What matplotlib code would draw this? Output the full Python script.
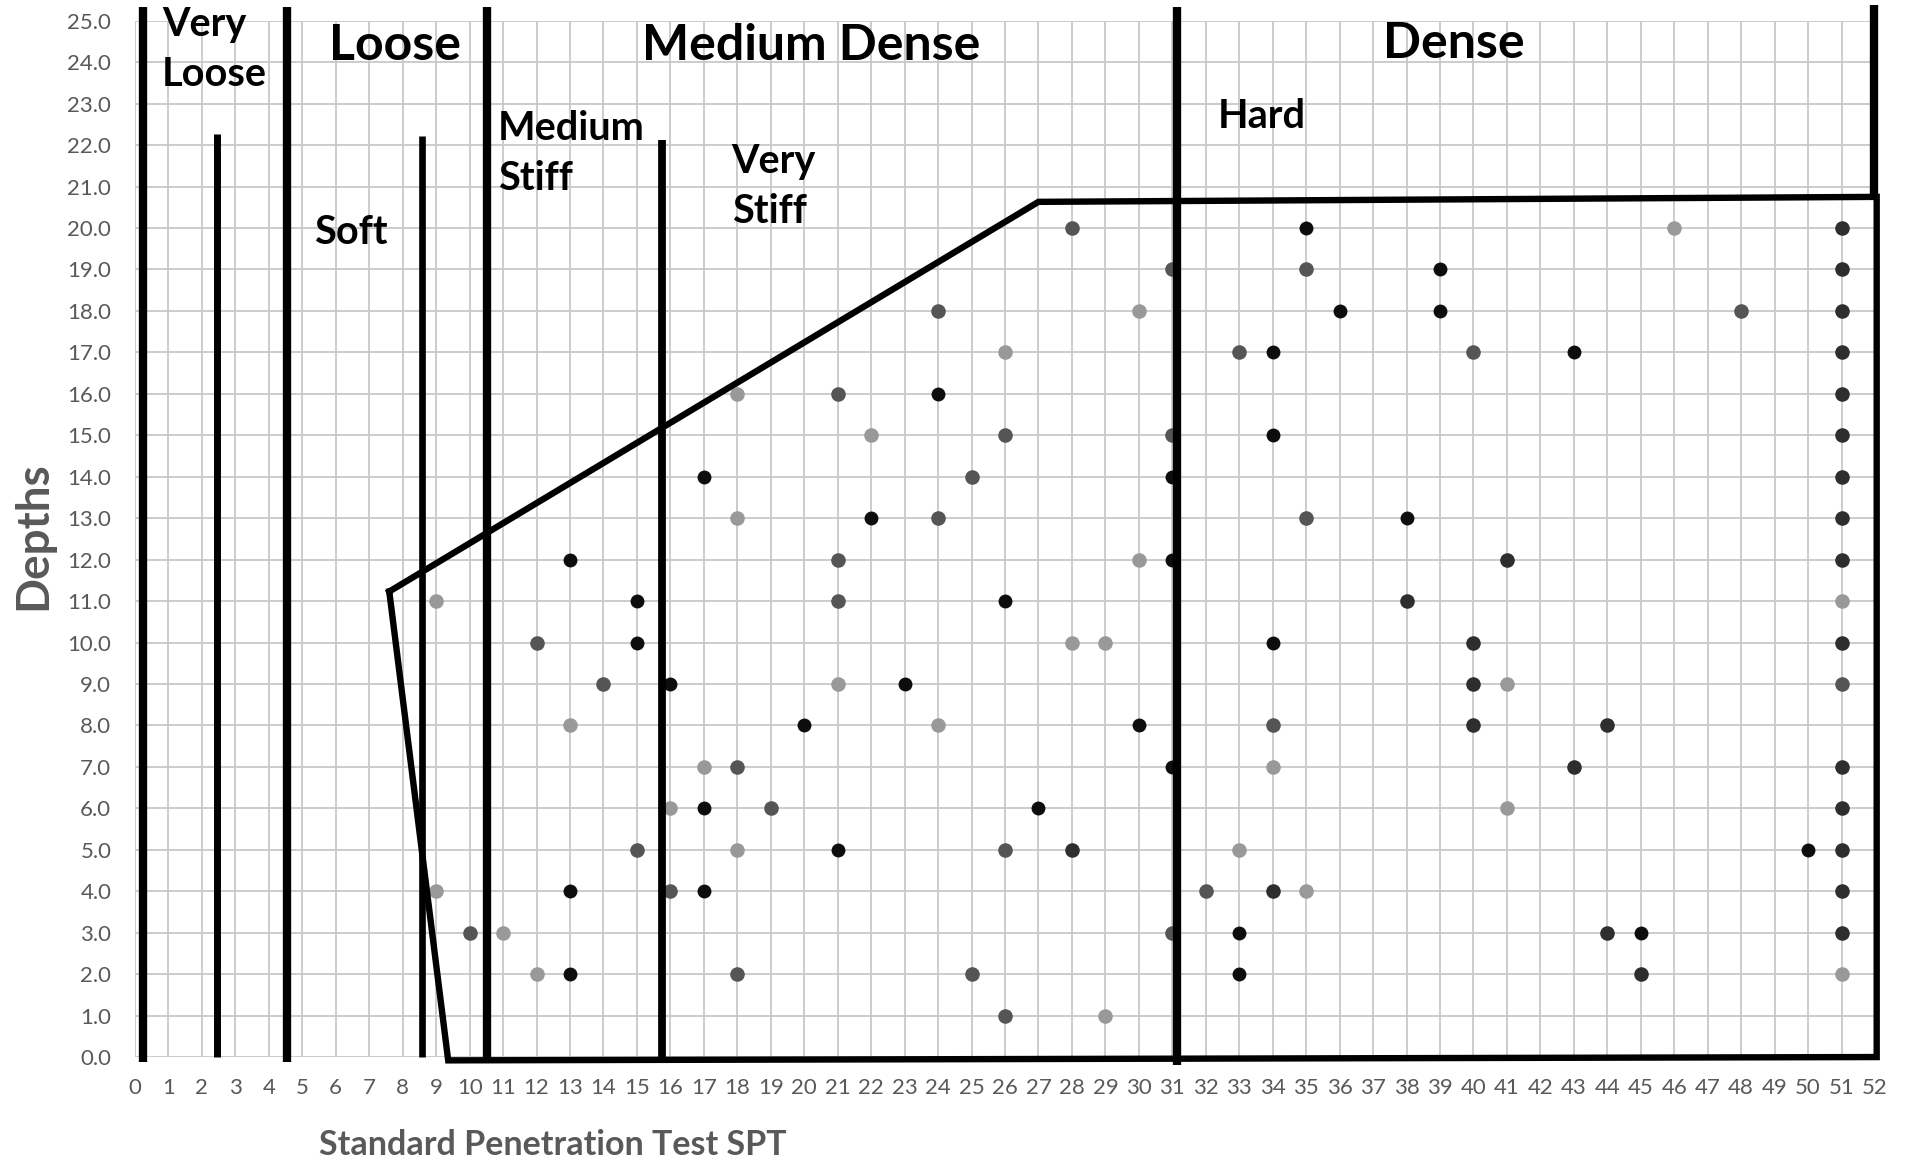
import numpy as np
import matplotlib.pyplot as plt

plt.rcParams['font.family'] = ['Lato', 'DejaVu Sans']

# SPT blow counts (x) and depths (y) of the test points, grouped by marker shade
black_spt = [13, 15, 17, 24, 22, 26, 15, 16, 23, 20, 30, 17, 27, 21, 13, 17, 13,
             35, 39, 36, 39, 34, 43, 34, 38, 34, 33, 45, 33, 50, 31, 31, 31]
black_depth = [12, 11, 14, 16, 13, 11, 10, 9, 9, 8, 8, 6, 6, 5, 4, 4, 2,
               20, 19, 18, 18, 17, 17, 15, 13, 10, 3, 3, 2, 5, 14, 12, 7]

dark_spt = [51, 51, 51, 51, 51, 51, 51, 51, 51, 51, 51, 51, 51, 51, 51,
            28, 38, 41, 40, 40, 40, 44, 43, 44, 45, 34]
dark_depth = [20, 19, 18, 17, 16, 15, 14, 13, 12, 10, 7, 6, 5, 4, 3,
              5, 11, 12, 10, 9, 8, 8, 7, 3, 2, 4]

grey_spt = [28, 31, 24, 48, 33, 40, 21, 26, 31, 25, 24, 35, 35, 21, 21, 12, 14, 51,
            18, 34, 19, 15, 26, 16, 32, 10, 18, 25, 26, 31]
grey_depth = [20, 19, 18, 18, 17, 17, 16, 15, 15, 14, 13, 13, 19, 12, 11, 10, 9, 9,
              7, 8, 6, 5, 5, 4, 4, 3, 2, 2, 1, 3]

light_spt = [46, 30, 26, 18, 22, 18, 30, 9, 51, 28, 29, 21, 41, 13, 24, 17, 34, 16,
             41, 33, 18, 9, 35, 11, 12, 51, 29]
light_depth = [20, 18, 17, 16, 15, 13, 12, 11, 11, 10, 10, 9, 9, 8, 8, 7, 7, 6,
               6, 5, 5, 4, 4, 3, 2, 2, 1]

# consistency boundaries: (SPT, bottom depth, top depth, width)
bounds_spt = [0.23, 2.44, 4.55, 8.57, 10.53, 15.76, 31.13, 51.97]
bounds_bottom = [-0.12, 0.0, -0.12, 0.0, -0.15, 0.0, -0.18, 20.7]
bounds_top = [25.32, 22.27, 25.34, 22.22, 25.32, 22.12, 25.32, 25.38]
bounds_width = [6.0, 5.0, 6.0, 4.8, 6.0, 5.6, 6.0, 6.0]

# envelope around the tested range
env_spt = [7.6, 27.0, 52.05, 52.05, 9.36, 7.6]
env_depth = [11.23, 20.63, 20.75, 0.0, -0.08, 11.23]

big_labels = ['Loose', 'Medium Dense', 'Dense']
big_x = [5.79, 15.14, 37.3]
big_y = [24.4, 24.4, 24.45]

small_labels = ['Very\nLoose', 'Soft', 'Medium\nStiff', 'Very\nStiff', 'Hard']
small_x = [0.8, 5.35, 10.84, 17.83, 32.35]
small_y = [24.3, 19.9, 21.8, 21.0, 22.7]

fig = plt.figure(figsize=(19.09, 11.63), dpi=100)
ax = fig.add_axes([0.0707, 0.0911, 0.9115, 0.8911])

ax.scatter(black_spt, black_depth, s=100, color='#0d0d0d', zorder=3, linewidths=0)
ax.scatter(dark_spt, dark_depth, s=110, color='#2e2e2e', zorder=3, linewidths=0)
ax.scatter(grey_spt, grey_depth, s=110, color='#555555', zorder=3, linewidths=0)
ax.scatter(light_spt, light_depth, s=110, color='#999999', zorder=3, linewidths=0)

for x, y0, y1, w in zip(bounds_spt, bounds_bottom, bounds_top, bounds_width):
    ax.plot([x, x], [y0, y1], color='black', lw=w, solid_capstyle='butt',
            zorder=4, clip_on=False)
ax.plot(env_spt, env_depth, color='black', lw=4.6, solid_joinstyle='miter',
        zorder=4, clip_on=False)

for lab, x, y in zip(big_labels, big_x, big_y):
    ax.text(x, y, lab, fontsize=36, fontweight='bold', ha='left', va='center',
            zorder=5, clip_on=False)
for lab, x, y in zip(small_labels, small_x, small_y):
    ax.text(x, y, lab, fontsize=28.5, fontweight='bold', ha='left', va='center',
            linespacing=1.45, zorder=5, clip_on=False)

ax.set_xlim(0, 52)
ax.set_ylim(0, 25)
ax.set_xticks(np.arange(0, 53, 1))
ax.set_yticks(np.arange(0, 26, 1))
ax.set_yticklabels(['%.1f' % v for v in np.arange(0, 26, 1)])
ax.tick_params(axis='both', length=0, labelsize=16, colors='#595959')
ax.tick_params(axis='x', pad=15)
ax.tick_params(axis='y', pad=17)
for s in ax.spines.values():
    s.set_visible(False)
ax.set_axisbelow(True)
ax.grid(True, color='#c8c8c8', lw=1.3)

fig.text(33 / 1909, 1 - 536 / 1163, 'Depths', rotation=90, fontsize=33,
         fontweight='bold', color='#595959', ha='center', va='center')
fig.text(553 / 1909, 1 - 1145 / 1163, 'Standard Penetration Test SPT', fontsize=24.5,
         fontweight='bold', color='#595959', ha='center', va='center')

fig.savefig('out.png', dpi=100)
